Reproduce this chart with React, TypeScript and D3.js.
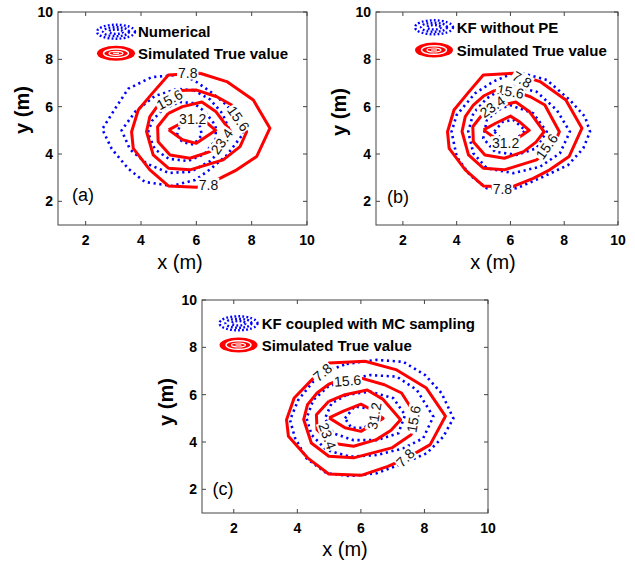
import React from "react";
import * as d3 from "d3";

type P = [number, number];

const xTicks = [2, 4, 6, 8, 10];
const yTicks = [2, 4, 6, 8, 10];
const seriesNames = ["Numerical", "KF without PE", "KF coupled with MC sampling"];
const trueName = "Simulated True value";
const panelTags = ["(a)", "(b)", "(c)"];

// Simulated true value contours (levels 7.8, 15.6, 23.4, 31.2)
const true78: P[] = [[6.13,7.41],[7.1,7.06],[8.06,6.28],[8.66,5.09],[8.18,3.89],[7.46,3.33],[6.85,2.97],[6.01,2.59],[4.99,2.65],[4.32,3.33],[3.72,4.24],[3.66,4.94],[3.9,5.86],[4.4,6.55],[4.99,7.34],[6.13,7.41]];
const true156: P[] = [[5.41,6.68],[6.01,6.7],[6.74,6.42],[7.28,6.07],[7.55,5.5],[7.82,4.94],[7.58,4.31],[6.97,3.75],[5.77,3.33],[4.99,3.4],[4.44,3.96],[4.2,4.95],[4.32,5.58],[4.62,6.07],[5.0,6.45],[5.41,6.68]];
const true234: P[] = [[4.99,5.72],[5.5,6.0],[6.2,6.2],[6.7,5.8],[7.25,4.94],[6.95,4.5],[6.49,4.1],[5.77,3.82],[5.05,3.96],[4.62,4.52],[4.6,5.15],[4.99,5.72]];
const true312: P[] = [[5.0,5.02],[5.45,5.3],[6.0,5.6],[6.35,5.35],[6.7,5.0],[6.0,4.45],[5.5,4.6],[5.0,5.02]];

// Numerical (panel a)
const num78: P[] = [[5.6,7.3],[5.23,7.33],[4.39,7.25],[3.54,6.76],[3.06,5.91],[2.6,5.05],[2.94,4.22],[3.54,3.38],[4.14,2.82],[5.11,2.65],[5.95,2.9],[6.5,3.35],[7.1,3.95],[7.7,4.86],[7.45,5.5],[7.1,6.06],[6.61,6.55],[6.01,7.04],[5.6,7.3]];
const num156: P[] = [[5.9,6.7],[5.3,6.75],[4.5,6.45],[3.8,5.8],[3.3,5.0],[3.6,4.2],[4.2,3.6],[5.0,3.2],[5.8,3.25],[6.5,3.7],[7.0,4.3],[7.2,5.0],[6.95,5.7],[6.5,6.3],[5.9,6.7]];
const num234: P[] = [[5.9,6.15],[5.4,6.2],[4.8,5.9],[4.4,5.4],[4.25,4.9],[4.5,4.2],[5.0,3.8],[5.7,3.7],[6.3,4.0],[6.7,4.6],[6.7,5.2],[6.3,5.8],[5.9,6.15]];
const num312: P[] = [[5.3,4.8],[5.4,5.2],[5.7,5.5],[6.1,5.3],[6.2,4.8],[5.9,4.4],[5.5,4.5],[5.3,4.8]];

// KF without PE (panel b)
const kf78: P[] = [[6.23,7.48],[7.35,7.13],[8.21,6.28],[8.77,5.58],[8.96,4.94],[8.71,4.24],[8.15,3.54],[7.22,3.04],[6.23,2.55],[5.12,2.55],[4.49,3.11],[4.0,3.89],[3.81,4.94],[4.0,5.65],[4.68,6.56],[5.36,7.06],[6.23,7.48]];
const kf156: P[] = [[6.1,6.87],[6.97,6.63],[7.72,5.86],[8.21,4.94],[7.84,4.03],[7.1,3.46],[6.1,3.19],[5.12,3.4],[4.62,4.03],[4.43,4.94],[4.62,5.72],[5.12,6.35],[5.61,6.7],[6.1,6.87]];
const kf234: P[] = [[5.98,6.07],[6.85,5.72],[7.35,4.94],[6.97,4.24],[6.23,3.96],[5.42,4.1],[4.99,4.66],[5.12,5.44],[5.55,5.86],[5.98,6.07]];
const kf312: P[] = [[5.4,4.95],[5.7,5.35],[6.1,5.45],[6.55,5.0],[6.2,4.6],[5.7,4.6],[5.4,4.95]];

// KF coupled with MC sampling (panel c)
const mc78: P[] = [[5.55,7.3],[6.5,7.47],[7.33,7.39],[8.02,6.83],[8.54,6.06],[8.91,5.0],[8.59,4.22],[8.07,3.52],[7.33,3.1],[6.5,2.68],[5.66,2.56],[4.92,2.68],[4.29,3.31],[3.93,4.16],[3.77,4.93],[4.03,5.78],[4.5,6.55],[5.03,7.04],[5.55,7.3]];
const mc156: P[] = [[5.55,6.62],[6.29,6.83],[7.13,6.76],[7.76,6.2],[8.28,5.07],[7.96,4.16],[7.33,3.73],[6.5,3.45],[5.66,3.38],[4.92,3.66],[4.45,4.3],[4.29,5.0],[4.5,5.77],[4.97,6.34],[5.55,6.62]];
const mc234: P[] = [[5.55,5.99],[6.29,6.13],[7.02,5.85],[7.39,5.14],[7.18,4.37],[6.5,4.08],[5.76,4.08],[5.13,4.37],[4.87,5.0],[5.08,5.64],[5.55,5.99]];
const mc312: P[] = [[5.5,5.0],[5.8,5.5],[6.3,5.4],[6.4,4.9],[6.1,4.6],[5.7,4.6],[5.5,5.0]];

// contour labels: [text, x, y, angle]
type L = [string, number, number, number];
const labelsA: L[] = [["7.8",5.69,7.44,0],["15.6",5.03,6.3,-28],["31.2",5.87,5.5,0],["15.6",7.52,5.5,55],["23.4",6.92,4.53,-55],["7.8",6.44,2.7,0]];
const labelsB: L[] = [["7.8",6.43,7.15,30],["15.6",6.0,6.64,10],["23.4",5.33,6.0,-35],["31.2",5.82,4.46,0],["15.6",7.35,4.32,-55],["7.8",5.7,2.51,0]];
const labelsC: L[] = [["7.8",4.79,6.94,-40],["15.6",5.58,6.59,-5],["31.2",6.42,5.1,-80],["23.4",4.95,4.25,70],["15.6",7.66,4.97,-80],["7.8",7.4,3.33,-45]];

const trueSet = [true78, true156, true234, true312];
const blueSets = [[num78, num156, num234, num312],[kf78, kf156, kf234, kf312],[mc78, mc156, mc234, mc312]];
const labelSets = [labelsA, labelsB, labelsC];

const layout = [
  { l: 58, r: 307, t: 12, b: 225, legY: [31.7, 53.3], iconX: 116, textX: 138, tag: [83, 195], xlab: [180, 269], ylab: [22, 110] },
  { l: 376, r: 618, t: 12, b: 225, legY: [27.3, 50], iconX: 434, textX: 456.7, tag: [398, 197], xlab: [493, 269], ylab: [339, 112] },
  { l: 202, r: 488, t: 300, b: 513, legY: [323.3, 345], iconX: 238.5, textX: 261.7, tag: [223, 489], xlab: [345, 556], ylab: [166, 402] },
];

const FONT = "'Liberation Sans', Arial, sans-serif";
const FRAME = "#444";

function Panel({ idx }: { idx: number }) {
  const L = layout[idx];
  const xs = d3.scaleLinear().domain([1, 10]).range([L.l, L.r]);
  const ys = d3.scaleLinear().domain([1, 10]).range([L.b, L.t]);
  const line = d3.line<P>().x((d) => xs(d[0])).y((d) => ys(d[1]));
  const tl = 4;
  return (
    <g>
      <rect x={L.l} y={L.t} width={L.r - L.l} height={L.b - L.t} fill="white" stroke="none" />
      {blueSets[idx].map((c, i) => (
        <path key={"b" + i} d={line(c) || ""} fill="none" stroke="#0000ff" strokeWidth={2.6} strokeDasharray="2.2 3.6" />
      ))}
      {trueSet.map((c, i) => (
        <path key={"r" + i} d={line(c) || ""} fill="none" stroke="#ff0000" strokeWidth={3} strokeLinejoin="round" />
      ))}
      {labelSets[idx].map(([t, x, y, a], i) => {
        const w = t.replace(".", "").length * 7.8 + 3.9 + 2;
        return (
          <g key={"l" + i} transform={`translate(${xs(x)},${ys(y)}) rotate(${a})`}>
            <rect x={-w / 2} y={-7} width={w} height={14} fill="white" />
            <text x={0} y={0} textAnchor="middle" dominantBaseline="central" fontSize={14} fontFamily={FONT} fill="#111">{t}</text>
          </g>
        );
      })}
      {/* frame */}
      <rect x={L.l} y={L.t} width={L.r - L.l} height={L.b - L.t} fill="none" stroke={FRAME} strokeWidth={1} />
      {xTicks.map((t) => (
        <g key={"xt" + t}>
          <line x1={xs(t)} x2={xs(t)} y1={L.b} y2={L.b - tl} stroke={FRAME} />
          <line x1={xs(t)} x2={xs(t)} y1={L.t} y2={L.t + tl} stroke={FRAME} />
          <text x={xs(t)} y={L.b + 15} textAnchor="middle" dominantBaseline="central" fontSize={14} fontWeight="bold" fontFamily={FONT}>{t}</text>
        </g>
      ))}
      {yTicks.map((t) => (
        <g key={"yt" + t}>
          <line x1={L.l} x2={L.l + tl} y1={ys(t)} y2={ys(t)} stroke={FRAME} />
          <line x1={L.r} x2={L.r - tl} y1={ys(t)} y2={ys(t)} stroke={FRAME} />
          <text x={L.l - 5} y={ys(t)} textAnchor="end" dominantBaseline="central" fontSize={14} fontWeight="bold" fontFamily={FONT}>{t}</text>
        </g>
      ))}
      {/* legend */}
      <g transform={`translate(${L.iconX},${L.legY[0]})`}>
        {[[19, 7], [13, 4.5], [7, 2.2]].map(([rx, ry], i) => (
          <ellipse key={i} cx={0} cy={0} rx={rx} ry={ry} fill="none" stroke="#0000ff" strokeWidth={2.4} strokeDasharray="1.8 2.2" />
        ))}
      </g>
      <text x={L.textX} y={L.legY[0]} dominantBaseline="central" fontSize={15} fontWeight="bold" fontFamily={FONT}>{seriesNames[idx]}</text>
      <g transform={`translate(${L.iconX},${L.legY[1]})`}>
        <ellipse cx={0} cy={0} rx={19} ry={7.5} fill="#ff0000" />
        <ellipse cx={0} cy={0} rx={12.5} ry={4.3} fill="none" stroke="white" strokeWidth={1.4} />
        <ellipse cx={0} cy={0} rx={7} ry={2} fill="none" stroke="white" strokeWidth={1.2} />
        <line x1={-3} x2={3} y1={0} y2={0} stroke="white" strokeWidth={1.2} />
      </g>
      <text x={L.textX} y={L.legY[1]} dominantBaseline="central" fontSize={15} fontWeight="bold" fontFamily={FONT}>{trueName}</text>
      {/* panel tag */}
      <text x={L.tag[0]} y={L.tag[1]} textAnchor="middle" dominantBaseline="central" fontSize={18} fontFamily={FONT}>{panelTags[idx]}</text>
      {/* axis labels */}
      <text x={L.xlab[0]} y={L.xlab[1]} textAnchor="middle" fontSize={20} fontFamily={FONT}>x (m)</text>
      <text transform={`translate(${L.ylab[0]},${L.ylab[1]}) rotate(-90)`} textAnchor="middle" dominantBaseline="central" fontSize={20} fontWeight="bold" fontFamily={FONT}>y (m)</text>
    </g>
  );
}

export default function App() {
  return (
    <svg width={635} height={567} style={{ position: "absolute", left: 0, top: 0, background: "white" }}>
      <rect width={635} height={567} fill="white" />
      {[0, 1, 2].map((i) => (
        <Panel key={i} idx={i} />
      ))}
    </svg>
  );
}
